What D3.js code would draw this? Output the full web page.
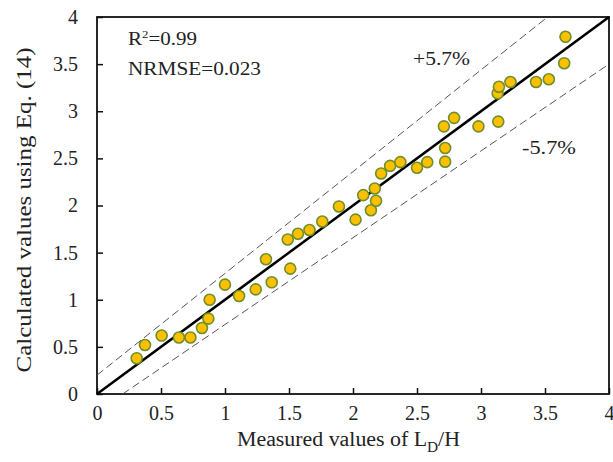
<!DOCTYPE html>
<html>
<head>
<meta charset="utf-8">
<script src="https://cdn.jsdelivr.net/npm/d3@7"></script>
<style>
  body { margin: 0; background: #fff; }
  svg text { font-family: "Liberation Serif", "Times New Roman", serif; fill: #222; }
</style>
</head>
<body>
<div id="chart"></div>
<script>
// measured vs calculated L_D/H
const measured = [0.31, 0.375, 0.505, 0.64, 0.73, 0.82, 0.87, 0.88, 1.0, 1.11, 1.24, 1.32, 1.365, 1.51, 1.49, 1.57,
  1.66, 1.76, 1.89, 2.02, 2.08, 2.14, 2.18, 2.17, 2.22, 2.29, 2.37, 2.50, 2.58, 2.72, 2.72, 2.71, 2.79,
  2.98, 3.135, 3.13, 3.14, 3.23, 3.43, 3.53, 3.65, 3.66];
const calculated = [0.38, 0.52, 0.62, 0.60, 0.60, 0.70, 0.80, 1.0, 1.16, 1.04, 1.11, 1.43, 1.185, 1.33, 1.64, 1.70,
  1.74, 1.83, 1.99, 1.85, 2.11, 1.95, 2.05, 2.18, 2.34, 2.42, 2.46, 2.40, 2.46, 2.465, 2.61, 2.84, 2.93,
  2.84, 2.89, 3.19, 3.26, 3.31, 3.31, 3.34, 3.51, 3.79];

const ticks = [0, 0.5, 1, 1.5, 2, 2.5, 3, 3.5, 4];
const lineOneToOne = [[0, 0], [4, 4]];
const linePlus = [[0, 0.2], [3.52, 4]];
const lineMinus = [[0.2, 0], [4, 3.5]];

const W = 613, H = 462;
const margin = { top: 17, right: 4, bottom: 68, left: 97 };
const width = W - margin.left - margin.right;
const height = H - margin.top - margin.bottom;
const serif = "'Liberation Serif', 'Times New Roman', serif";

const svg = d3.select("#chart").append("svg")
  .attr("width", W).attr("height", H);
const g = svg.append("g").attr("transform", `translate(${margin.left},${margin.top})`);

const x = d3.scaleLinear().domain([0, 4]).range([0, width]);
const y = d3.scaleLinear().domain([0, 4]).range([height, 0]);

// axes, ticks inside
const xAxis = g.append("g").attr("transform", `translate(0,${height})`)
  .call(d3.axisBottom(x).tickValues(ticks).tickSize(-6).tickPadding(20).tickFormat(d3.format("")));
const yAxis = g.append("g")
  .call(d3.axisLeft(y).tickValues(ticks).tickSize(-6).tickPadding(19).tickFormat(d3.format("")));
[xAxis, yAxis].forEach(a => {
  a.attr("font-family", null);
  a.select(".domain").remove();
  a.selectAll("line").attr("stroke", "#111").attr("stroke-width", 1.5);
  a.selectAll("text").style("font-size", "20px").style("font-family", serif).attr("fill", "#222");
});
xAxis.selectAll("text").attr("dy", "0.3em");

// frame
g.append("rect").attr("x", 0).attr("y", 0).attr("width", width).attr("height", height)
  .attr("fill", "none").attr("stroke", "#111").attr("stroke-width", 1.8);

const line = d3.line().x(d => x(d[0])).y(d => y(d[1]));

g.append("path").datum(linePlus).attr("d", line)
  .attr("stroke", "#555").attr("stroke-width", 1).attr("stroke-dasharray", "8,4").attr("fill", "none");
g.append("path").datum(lineMinus).attr("d", line)
  .attr("stroke", "#555").attr("stroke-width", 1).attr("stroke-dasharray", "8,4").attr("fill", "none");
g.append("path").datum(lineOneToOne).attr("d", line)
  .attr("stroke", "#000").attr("stroke-width", 2.5).attr("fill", "none");

// points
g.append("g").selectAll("circle")
  .data(measured.map((m, i) => [m, calculated[i]]))
  .enter().append("circle")
  .attr("cx", d => x(d[0]))
  .attr("cy", d => y(d[1]))
  .attr("r", 5.5)
  .attr("fill", "#FFC000")
  .attr("stroke", "#6E8F2A")
  .attr("stroke-width", 1.6);

// annotations (the source font is a bit wider than Times, so stretch)
const r2 = svg.append("text").attr("x", 128).attr("y", 45).style("font-size", "18px")
  .attr("textLength", 69).attr("lengthAdjust", "spacingAndGlyphs");
r2.append("tspan").text("R");
r2.append("tspan").style("font-size", "11px").attr("dy", -7).text("2");
r2.append("tspan").attr("dy", 7).text("=0.99");
svg.append("text").attr("x", 128).attr("y", 75).style("font-size", "18px")
  .attr("textLength", 133).attr("lengthAdjust", "spacingAndGlyphs").text("NRMSE=0.023");
svg.append("text").attr("x", 413).attr("y", 65).style("font-size", "18px")
  .attr("textLength", 57).attr("lengthAdjust", "spacingAndGlyphs").text("+5.7%");
svg.append("text").attr("x", 522).attr("y", 154).style("font-size", "18px")
  .attr("textLength", 54).attr("lengthAdjust", "spacingAndGlyphs").text("-5.7%");

// axis titles
const xt = svg.append("text").attr("x", 237).attr("y", 446).style("font-size", "20px")
  .attr("textLength", 223).attr("lengthAdjust", "spacingAndGlyphs");
xt.append("tspan").text("Measured values of L");
xt.append("tspan").style("font-size", "14px").attr("dy", 6).text("D");
xt.append("tspan").attr("dy", -6).text("/H");

svg.append("text")
  .attr("transform", `translate(31,210) rotate(-90)`)
  .attr("text-anchor", "middle").style("font-size", "20px")
  .attr("textLength", 325).attr("lengthAdjust", "spacingAndGlyphs")
  .text("Calculated values using Eq. (14)");
</script>
</body>
</html>
